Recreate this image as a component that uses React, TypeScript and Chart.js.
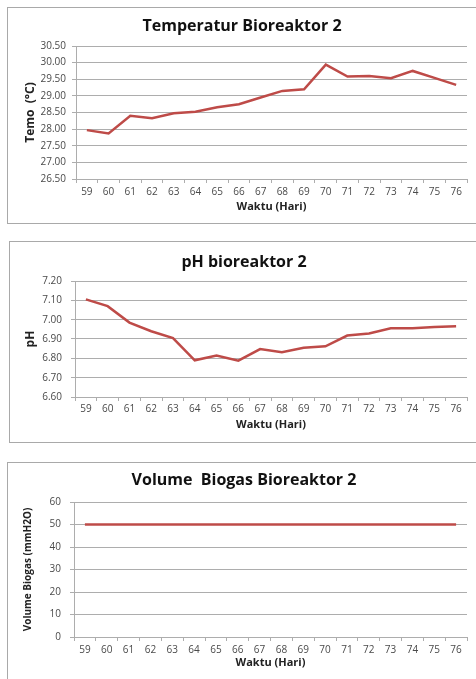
import React, { useEffect, useRef } from "react";
import { Chart, registerables } from "chart.js";

Chart.register(...registerables);

const days = ["59", "60", "61", "62", "63", "64", "65", "66", "67", "68", "69", "70", "71", "72", "73", "74", "75", "76"];
const temperature = [27.97, 27.87, 28.4, 28.33, 28.48, 28.52, 28.66, 28.75, 28.95, 29.15, 29.2, 29.94, 29.58, 29.6, 29.53, 29.75, 29.54, 29.33];
const ph = [7.105, 7.07, 6.985, 6.94, 6.905, 6.79, 6.815, 6.788, 6.848, 6.832, 6.855, 6.862, 6.918, 6.928, 6.955, 6.955, 6.962, 6.966];
const biogas = [50, 50, 50, 50, 50, 50, 50, 50, 50, 50, 50, 50, 50, 50, 50, 50, 50, 50];

const titles = ["Temperatur Bioreaktor 2", "pH bioreaktor 2", "Volume  Biogas Bioreaktor 2"];
const yTitles = ["Temo  (°C)", "pH", "Volume Biogas (mmH2O)"];
const xTitle = "Waktu (Hari)";

const FONT = "'Open Sans', 'DejaVu Sans', sans-serif";
const LINE = "#be4b48";
const GRID = "#adadad";
const TICK = "#4a4a4a";

type PanelProps = {
  left: number; top: number; width: number; height: number;
  title: string; titleTop: number; titleBottom: number;
  yTitle: string; yTitlePad: number; yWidth: number; yTickPad: number;
  xHeight: number; xTickPad: number; xTitlePad: number; rightPad: number; leftPad: number;
  min: number; max: number; step: number; decimals: number;
  values: number[]; yTitleSize: number;
};

function Panel(p: PanelProps) {
  const ref = useRef<HTMLCanvasElement | null>(null);
  useEffect(() => {
    if (!ref.current) return;
    const chart = new Chart(ref.current, {
      type: "line",
      data: {
        labels: days,
        datasets: [{
          data: p.values,
          borderColor: LINE,
          borderWidth: 2.5,
          pointRadius: 0,
          tension: 0,
          fill: false,
        }],
      },
      options: {
        responsive: false,
        animation: false,
        devicePixelRatio: 1,
        layout: { padding: { left: p.leftPad, right: p.rightPad, top: 0, bottom: 0 } },
        plugins: {
          legend: { display: false },
          tooltip: { enabled: false },
          title: {
            display: true,
            text: p.title,
            color: "#111",
            font: { family: FONT, size: 16, weight: "bold", lineHeight: 1.125 },
            padding: { top: p.titleTop, bottom: p.titleBottom },
          },
        },
        scales: {
          x: {
            type: "category",
            offset: true,
            grid: {
              offset: true,
              drawOnChartArea: false,
              drawTicks: true,
              tickLength: 4,
              color: GRID,
            },
            border: { color: GRID, width: 1 },
            ticks: {
              color: TICK,
              font: { family: FONT, size: 10 },
              padding: p.xTickPad,
              maxRotation: 0,
              autoSkip: false,
            },
            title: {
              display: true,
              text: xTitle,
              color: "#222",
              font: { family: FONT, size: 11, weight: "bold", lineHeight: 1.2 },
              padding: { top: 0, bottom: p.xTitlePad },
            },
            afterFit: (s: any) => { s.height = p.xHeight; },
          },
          y: {
            type: "linear",
            min: p.min,
            max: p.max,
            grid: { color: GRID, tickLength: 4, lineWidth: 1 },
            border: { color: GRID, width: 1 },
            ticks: {
              stepSize: p.step,
              color: TICK,
              font: { family: FONT, size: 10 },
              padding: p.yTickPad,
              callback: (v: any) => Number(v).toFixed(p.decimals),
            },
            title: {
              display: true,
              text: p.yTitle,
              color: "#222",
              font: { family: FONT, size: p.yTitleSize, weight: "bold", lineHeight: 1.2 },
              padding: { top: p.yTitlePad, bottom: 0 },
            },
            afterFit: (s: any) => { s.width = p.yWidth; },
          },
        },
      },
    } as any);
    return () => chart.destroy();
  }, []);
  return (
    <canvas
      ref={ref}
      width={p.width}
      height={p.height}
      style={{ position: "absolute", left: p.left, top: p.top, width: p.width, height: p.height }}
    />
  );
}

const box = (left: number, top: number, height: number): React.CSSProperties => ({
  position: "absolute",
  left,
  top,
  width: 500,
  height,
  boxSizing: "border-box",
  border: "1px solid #a9a9a9",
  background: "#fff",
});

export default function App() {
  return (
    <div style={{ position: "absolute", left: 0, top: 0, width: 476, height: 679, overflow: "hidden", background: "#fff" }}>
      <div style={box(7, 7, 217)} />
      <div style={box(9, 241, 202)} />
      <div style={box(7, 462, 300)} />
      <Panel
        left={8} top={8} width={468} height={214}
        title={titles[0]} titleTop={9} titleBottom={11}
        yTitle={yTitles[0]} yTitlePad={6} yWidth={59} yTickPad={6} yTitleSize={12}
        xHeight={43} xTickPad={3} xTitlePad={8.4} rightPad={9} leftPad={9}
        min={26.5} max={30.5} step={0.5} decimals={2}
        values={temperature}
      />
      <Panel
        left={10} top={242} width={466} height={199}
        title={titles[1]} titleTop={11} titleBottom={10}
        yTitle={yTitles[1]} yTitlePad={2} yWidth={54} yTickPad={9} yTitleSize={12}
        xHeight={44} xTickPad={2} xTitlePad={9.4} rightPad={9} leftPad={11}
        min={6.6} max={7.2} step={0.1} decimals={2}
        values={ph}
      />
      <Panel
        left={8} top={463} width={468} height={216}
        title={titles[2]} titleTop={8} titleBottom={13}
        yTitle={yTitles[2]} yTitlePad={1.4} yWidth={53} yTickPad={9} yTitleSize={10}
        xHeight={42} xTickPad={3} xTitlePad={9.4} rightPad={9} leftPad={13}
        min={0} max={60} step={10} decimals={0}
        values={biogas}
      />
    </div>
  );
}
